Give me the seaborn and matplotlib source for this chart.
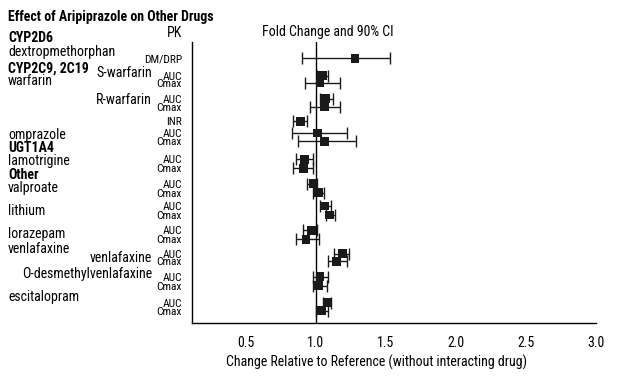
import numpy as np
import pandas as pd
import seaborn as sns
import matplotlib.pyplot as plt
from matplotlib import font_manager

# Fold change and 90% CI, one entry per PK row (top to bottom)
pk_labels = ["DM/DRP", "AUC", "Cmax", "AUC", "Cmax", "INR", "AUC", "Cmax",
             "AUC", "Cmax", "AUC", "Cmax", "AUC", "Cmax", "AUC", "Cmax",
             "AUC", "Cmax", "AUC", "Cmax", "AUC", "Cmax"]
fold = [1.28, 1.05, 1.03, 1.07, 1.06, 0.89, 1.01, 1.06,
        0.92, 0.91, 0.98, 1.02, 1.06, 1.10, 0.97, 0.93,
        1.19, 1.15, 1.03, 1.02, 1.08, 1.04]
ci_low = [0.90, 1.01, 0.92, 1.03, 0.96, 0.84, 0.83, 0.87,
          0.86, 0.84, 0.94, 0.98, 1.03, 1.07, 0.91, 0.86,
          1.13, 1.09, 0.98, 0.98, 1.05, 1.00]
ci_high = [1.53, 1.09, 1.17, 1.12, 1.17, 0.94, 1.22, 1.29,
           0.98, 0.98, 1.01, 1.06, 1.11, 1.14, 1.01, 1.02,
           1.24, 1.22, 1.09, 1.08, 1.11, 1.09]

# row layout (vertical position of each row, in pixel-like units from the top)
row_pos = [58.3, 75.7, 83, 98.7, 106.7, 121.3, 133, 141.3,
           159.3, 168.3, 183.7, 192.7, 206, 215, 230.3, 239.3,
           253.7, 261.3, 276.7, 285.7, 302.7, 310.7]

df = pd.DataFrame({"pk": pk_labels, "fold": fold, "lo": ci_low,
                   "hi": ci_high, "row": row_pos})

sns.set_style("white")
names = {f.name for f in font_manager.fontManager.ttflist}
fams = [f for f in ["Roboto Condensed", "Liberation Sans Narrow", "Open Sans Condensed",
                    "Liberation Sans"] if f in names]
plt.rcParams["font.family"] = fams + ["DejaVu Sans"]
plt.rcParams["text.color"] = "black"
plt.rcParams["xtick.color"] = "black"
plt.rcParams["ytick.color"] = "black"
narrow = fams[0] != "Liberation Sans"
k = 1.0 if narrow else 0.85  # shrink if only a regular-width face is there

W, H = 621, 378
fig = plt.figure(figsize=(W / 100, H / 100), dpi=100)
ax = fig.add_axes([191.7 / W, 1 - 323.3 / H, (595.7 - 191.7) / W, (323.3 - 42) / H])

ax.axvline(1.0, color="black", lw=1.0, zorder=1)
ax.errorbar(df["fold"], df["row"],
            xerr=[df["fold"] - df["lo"], df["hi"] - df["fold"]],
            fmt="none", ecolor="#1a1a1a", elinewidth=1.0, capsize=4, capthick=1.0, zorder=2)
sns.scatterplot(data=df, x="fold", y="row", marker="s", s=40, color="#1a1a1a",
                edgecolor="none", ax=ax, zorder=3)

ax.set_xlim(0.113, 3.0)
ax.set_ylim(323.3, 42)
ax.set_xticks([0.5, 1.0, 1.5, 2.0, 2.5, 3.0])
ax.set_xticklabels(["0.5", "1.0", "1.5", "2.0", "2.5", "3.0"], fontsize=10 * k)
ax.set_yticks(df["row"])
ax.set_yticklabels(df["pk"], fontsize=8.2 * k)
ax.tick_params(axis="both", direction="out", length=5, width=1, color="black", pad=2)
ax.tick_params(axis="x", pad=4)
ax.set_xlabel("")
ax.set_ylabel("")
for side in ["top", "right"]:
    ax.spines[side].set_visible(False)
for side in ["left", "bottom"]:
    ax.spines[side].set_color("black")
    ax.spines[side].set_linewidth(1.0)


def put(x, y, s, size=10, weight="normal", ha="left"):
    fig.text(x / W, 1 - y / H, s, fontsize=size * k, fontweight=weight, ha=ha, va="center")


put(8, 17, "Effect of Aripiprazole on Other Drugs", weight="bold")
put(175, 33, "PK", ha="center")
put(328, 32, "Fold Change and 90% CI", ha="center")
put(377, 362, "Change Relative to Reference (without interacting drug)", ha="center")

left_bold = [("CYP2D6", 38), ("CYP2C9, 2C19", 69), ("UGT1A4", 148), ("Other", 175)]
left_drugs = [("dextropmethorphan", 52), ("warfarin", 81), ("omprazole", 135),
              ("lamotrigine", 161), ("valproate", 188), ("lithium", 211),
              ("lorazepam", 234), ("venlafaxine", 249), ("escitalopram", 297)]
sub_drugs = [("S-warfarin", 73), ("R-warfarin", 100), ("venlafaxine", 258),
             ("O-desmethylvenlafaxine", 274)]
for s, y in left_bold:
    put(8, y, s, weight="bold")
for s, y in left_drugs:
    put(8, y, s)
for s, y in sub_drugs:
    put(152, y, s, ha="right")

plt.savefig("out.png", dpi=100)
